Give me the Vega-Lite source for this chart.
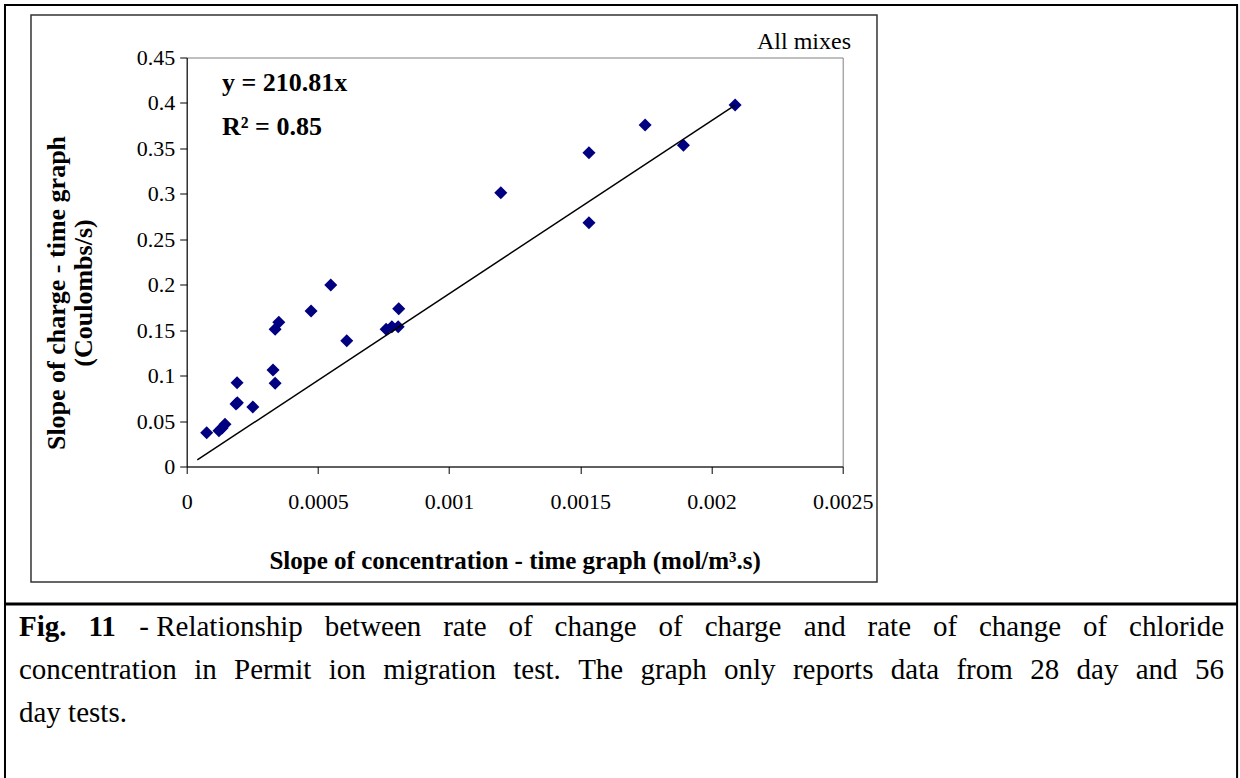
{
  "$schema": "https://vega.github.io/schema/vega-lite/v6.json",
  "autosize": {"type": "none"},
  "padding": {"left": 186.7, "top": 57.5, "right": 397.3, "bottom": 311.5},
  "width": 656,
  "height": 409,
  "background": "white",
  "config": {
    "view": {"stroke": "#808080", "strokeWidth": 1},
    "font": "Liberation Serif",
    "text": {"font": "Liberation Serif", "color": "black", "fontSize": 29, "align": "left", "baseline": "middle"}
  },
  "data": {"values": [{"k": 1}]},
  "datasets": {
    "points": [
      {"x": 0.0000762, "y": 0.0372},
      {"x": 0.000123, "y": 0.0394},
      {"x": 0.000135, "y": 0.0424},
      {"x": 0.000146, "y": 0.0464},
      {"x": 0.000188, "y": 0.0688},
      {"x": 0.000193, "y": 0.0702},
      {"x": 0.000192, "y": 0.0922},
      {"x": 0.000252, "y": 0.0655},
      {"x": 0.000329, "y": 0.1062},
      {"x": 0.000337, "y": 0.0915},
      {"x": 0.000337, "y": 0.151},
      {"x": 0.000351, "y": 0.1587},
      {"x": 0.000474, "y": 0.1711},
      {"x": 0.000549, "y": 0.1997},
      {"x": 0.00061, "y": 0.1384},
      {"x": 0.00076, "y": 0.151},
      {"x": 0.000782, "y": 0.1538},
      {"x": 0.000806, "y": 0.1538},
      {"x": 0.000808, "y": 0.1736},
      {"x": 0.001197, "y": 0.3012},
      {"x": 0.001533, "y": 0.3453},
      {"x": 0.001533, "y": 0.2682},
      {"x": 0.001747, "y": 0.3757},
      {"x": 0.001893, "y": 0.3534},
      {"x": 0.00209, "y": 0.3977}
    ],
    "fit": [
      {"x": 0.0000404, "y": 0.0072},
      {"x": 0.00209, "y": 0.3977}
    ]
  },
  "layer": [
    {
      "data": {"name": "points"},
      "mark": {"type": "point", "shape": "diamond", "filled": true, "size": 170, "color": "#000080", "opacity": 1},
      "encoding": {
        "x": {
          "field": "x", "type": "quantitative",
          "scale": {"domain": [0, 0.0025], "nice": false, "zero": false},
          "axis": {
            "title": "Slope of concentration - time graph (mol/m³.s)",
            "titleFont": "Liberation Serif", "titleFontSize": 25, "titleFontWeight": "bold", "titleColor": "black",
            "titlePadding": 36,
            "values": [0, 0.0005, 0.001, 0.0015, 0.002, 0.0025],
            "format": "~f",
            "labelFont": "Liberation Serif", "labelFontSize": 22, "labelColor": "black",
            "labelPadding": 18, "labelFlush": false, "labelOverlap": false,
            "tickSize": 7, "tickColor": "black", "domainColor": "black", "grid": false
          }
        },
        "y": {
          "field": "y", "type": "quantitative",
          "scale": {"domain": [0, 0.45], "nice": false, "zero": false},
          "axis": {
            "title": ["Slope of  charge - time graph", "(Coulombs/s)"],
            "titleFont": "Liberation Serif", "titleFontSize": 26, "titleFontWeight": "bold", "titleColor": "black",
            "titleX": -130, "titleY": 235, "titleAngle": -90, "titleAlign": "center", "titleBaseline": "middle",
            "titleLineHeight": 27,
            "values": [0, 0.05, 0.1, 0.15, 0.2, 0.25, 0.3, 0.35, 0.4, 0.45],
            "format": "~f",
            "labelFont": "Liberation Serif", "labelFontSize": 22, "labelColor": "black",
            "labelPadding": 5, "labelFlush": false, "labelOverlap": false,
            "tickSize": 7, "tickColor": "black", "domainColor": "black", "grid": false
          }
        }
      }
    },
    {
      "data": {"name": "fit"},
      "mark": {"type": "line", "color": "black", "strokeWidth": 1.5},
      "encoding": {
        "x": {"field": "x", "type": "quantitative"},
        "y": {"field": "y", "type": "quantitative"}
      }
    },
    {
      "mark": {"type": "rect", "fill": "transparent", "stroke": "#333333", "strokeWidth": 1.5},
      "encoding": {
        "x": {"datum": -0.0005934, "type": "quantitative"},
        "x2": {"datum": 0.0026307},
        "y": {"datum": 0.49675, "type": "quantitative"},
        "y2": {"datum": -0.12708}
      }
    },
    {
      "mark": {"type": "rect", "fill": "transparent", "stroke": "black", "strokeWidth": 2},
      "encoding": {
        "x": {"datum": -0.0006925, "type": "quantitative"},
        "x2": {"datum": 0.004003},
        "y": {"datum": 0.50776, "type": "quantitative"},
        "y2": {"datum": -0.34492}
      }
    },
    {
      "mark": {"type": "rule", "stroke": "black", "strokeWidth": 3},
      "encoding": {
        "x": {"datum": -0.0006925, "type": "quantitative"},
        "x2": {"datum": 0.004003},
        "y": {"datum": -0.15128, "type": "quantitative"}
      }
    },
    {
      "mark": {"type": "text", "text": "y = 210.81x", "fontSize": 26, "fontWeight": "bold"},
      "encoding": {
        "x": {"datum": 0.0001345, "type": "quantitative"},
        "y": {"datum": 0.4219, "type": "quantitative"}
      }
    },
    {
      "mark": {"type": "text", "text": "R² = 0.85", "fontSize": 26, "fontWeight": "bold"},
      "encoding": {
        "x": {"datum": 0.0001345, "type": "quantitative"},
        "y": {"datum": 0.3735, "type": "quantitative"}
      }
    },
    {
      "mark": {"type": "text", "text": "All mixes", "fontSize": 24, "align": "right"},
      "encoding": {
        "x": {"datum": 0.0025316, "type": "quantitative"},
        "y": {"datum": 0.467, "type": "quantitative"}
      }
    },
    {"mark": {"type": "text", "text": "Fig.", "fontWeight": "bold"}, "encoding": {"x": {"datum": -0.0006391, "type": "quantitative"}, "y": {"datum": -0.17659, "type": "quantitative"}}},
    {"mark": {"type": "text", "text": "11", "fontWeight": "bold"}, "encoding": {"x": {"datum": -0.00037458, "type": "quantitative"}, "y": {"datum": -0.17659, "type": "quantitative"}}},
    {"mark": {"type": "text", "text": "- Relationship"}, "encoding": {"x": {"datum": -0.00018068, "type": "quantitative"}, "y": {"datum": -0.17659, "type": "quantitative"}}},
    {"mark": {"type": "text", "text": "between"}, "encoding": {"x": {"datum": 0.00052591, "type": "quantitative"}, "y": {"datum": -0.17659, "type": "quantitative"}}},
    {"mark": {"type": "text", "text": "rate"}, "encoding": {"x": {"datum": 0.00097755, "type": "quantitative"}, "y": {"datum": -0.17659, "type": "quantitative"}}},
    {"mark": {"type": "text", "text": "of"}, "encoding": {"x": {"datum": 0.0012266, "type": "quantitative"}, "y": {"datum": -0.17659, "type": "quantitative"}}},
    {"mark": {"type": "text", "text": "change"}, "encoding": {"x": {"datum": 0.00140206, "type": "quantitative"}, "y": {"datum": -0.17659, "type": "quantitative"}}},
    {"mark": {"type": "text", "text": "of"}, "encoding": {"x": {"datum": 0.00179844, "type": "quantitative"}, "y": {"datum": -0.17659, "type": "quantitative"}}},
    {"mark": {"type": "text", "text": "charge"}, "encoding": {"x": {"datum": 0.0019739, "type": "quantitative"}, "y": {"datum": -0.17659, "type": "quantitative"}}},
    {"mark": {"type": "text", "text": "and"}, "encoding": {"x": {"datum": 0.00235183, "type": "quantitative"}, "y": {"datum": -0.17659, "type": "quantitative"}}},
    {"mark": {"type": "text", "text": "rate"}, "encoding": {"x": {"datum": 0.00259482, "type": "quantitative"}, "y": {"datum": -0.17659, "type": "quantitative"}}},
    {"mark": {"type": "text", "text": "of"}, "encoding": {"x": {"datum": 0.00284387, "type": "quantitative"}, "y": {"datum": -0.17659, "type": "quantitative"}}},
    {"mark": {"type": "text", "text": "change"}, "encoding": {"x": {"datum": 0.00301933, "type": "quantitative"}, "y": {"datum": -0.17659, "type": "quantitative"}}},
    {"mark": {"type": "text", "text": "of"}, "encoding": {"x": {"datum": 0.0034157, "type": "quantitative"}, "y": {"datum": -0.17659, "type": "quantitative"}}},
    {"mark": {"type": "text", "text": "chloride"}, "encoding": {"x": {"datum": 0.00359116, "type": "quantitative"}, "y": {"datum": -0.17659, "type": "quantitative"}}},
    {"mark": {"type": "text", "text": "concentration"}, "encoding": {"x": {"datum": -0.0006391, "type": "quantitative"}, "y": {"datum": -0.2239, "type": "quantitative"}}},
    {"mark": {"type": "text", "text": "in"}, "encoding": {"x": {"datum": 0.00002835, "type": "quantitative"}, "y": {"datum": -0.2239, "type": "quantitative"}}},
    {"mark": {"type": "text", "text": "Permit"}, "encoding": {"x": {"datum": 0.00018045, "type": "quantitative"}, "y": {"datum": -0.2239, "type": "quantitative"}}},
    {"mark": {"type": "text", "text": "ion"}, "encoding": {"x": {"datum": 0.00054131, "type": "quantitative"}, "y": {"datum": -0.2239, "type": "quantitative"}}},
    {"mark": {"type": "text", "text": "migration"}, "encoding": {"x": {"datum": 0.00074867, "type": "quantitative"}, "y": {"datum": -0.2239, "type": "quantitative"}}},
    {"mark": {"type": "text", "text": "test."}, "encoding": {"x": {"datum": 0.00124459, "type": "quantitative"}, "y": {"datum": -0.2239, "type": "quantitative"}}},
    {"mark": {"type": "text", "text": "The"}, "encoding": {"x": {"datum": 0.00149184, "type": "quantitative"}, "y": {"datum": -0.2239, "type": "quantitative"}}},
    {"mark": {"type": "text", "text": "graph"}, "encoding": {"x": {"datum": 0.00172984, "type": "quantitative"}, "y": {"datum": -0.2239, "type": "quantitative"}}},
    {"mark": {"type": "text", "text": "only"}, "encoding": {"x": {"datum": 0.0020476, "type": "quantitative"}, "y": {"datum": -0.2239, "type": "quantitative"}}},
    {"mark": {"type": "text", "text": "reports"}, "encoding": {"x": {"datum": 0.00231021, "type": "quantitative"}, "y": {"datum": -0.2239, "type": "quantitative"}}},
    {"mark": {"type": "text", "text": "data"}, "encoding": {"x": {"datum": 0.00268323, "type": "quantitative"}, "y": {"datum": -0.2239, "type": "quantitative"}}},
    {"mark": {"type": "text", "text": "from"}, "encoding": {"x": {"datum": 0.00293346, "type": "quantitative"}, "y": {"datum": -0.2239, "type": "quantitative"}}},
    {"mark": {"type": "text", "text": "28"}, "encoding": {"x": {"datum": 0.00321445, "type": "quantitative"}, "y": {"datum": -0.2239, "type": "quantitative"}}},
    {"mark": {"type": "text", "text": "day"}, "encoding": {"x": {"datum": 0.00339108, "type": "quantitative"}, "y": {"datum": -0.2239, "type": "quantitative"}}},
    {"mark": {"type": "text", "text": "and"}, "encoding": {"x": {"datum": 0.00361681, "type": "quantitative"}, "y": {"datum": -0.2239, "type": "quantitative"}}},
    {"mark": {"type": "text", "text": "56"}, "encoding": {"x": {"datum": 0.00384253, "type": "quantitative"}, "y": {"datum": -0.2239, "type": "quantitative"}}},
    {"mark": {"type": "text", "text": "day tests."}, "encoding": {"x": {"datum": -0.0006391, "type": "quantitative"}, "y": {"datum": -0.27121, "type": "quantitative"}}}
  ]
}
